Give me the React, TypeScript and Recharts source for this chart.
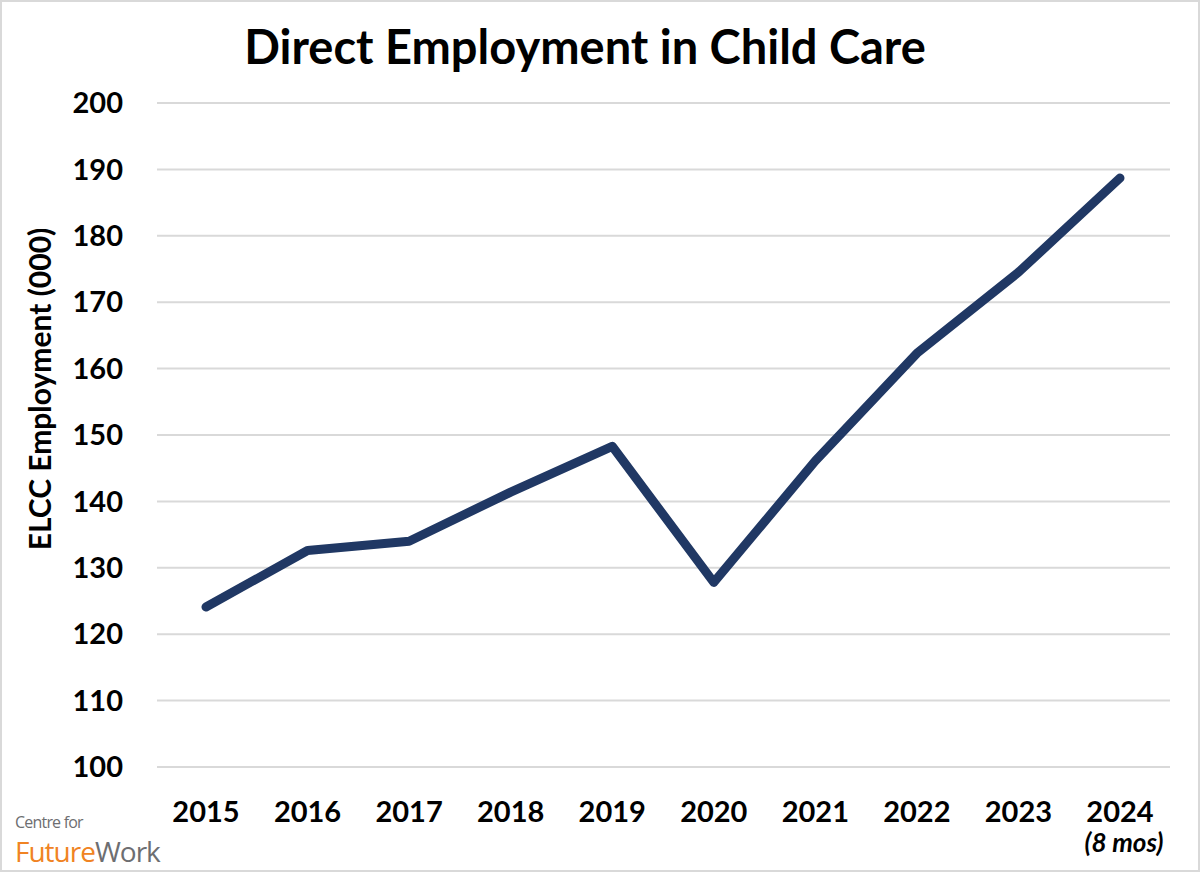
import React from "react";
import { LineChart, Line, XAxis, YAxis, CartesianGrid } from "recharts";

const years = ["2015", "2016", "2017", "2018", "2019", "2020", "2021", "2022", "2023", "2024"];
const employment = [124.1, 132.6, 134.0, 141.4, 148.3, 127.8, 146.1, 162.3, 174.5, 188.7];
const tickNotes: Record<string, string> = { "2024": "(8 mos)" };
const yTicks = [100, 110, 120, 130, 140, 150, 160, 170, 180, 190, 200];

const data = years.map((y, i) => ({ year: y, value: employment[i] }));

const FONT = "Lato, 'Open Sans', sans-serif";

const XTick = (props: any) => {
  const { x, y, payload } = props;
  const note = tickNotes[payload.value];
  return (
    <g>
      <text x={x} y={y} dy="0.71em" textAnchor="middle" fontFamily={FONT} fontWeight={700} fontSize={29} fill="#000">
        {payload.value}
      </text>
      {note && (
        <text x={x + 4} y={y + 33} dy="0.71em" textAnchor="middle" fontFamily={FONT} fontWeight={700} fontStyle="italic" fontSize={26} fill="#000">
          {note}
        </text>
      )}
    </g>
  );
};

export default function App() {
  return (
    <div style={{ position: "absolute", left: 0, top: 0, width: 1200, height: 872, background: "#fff", boxSizing: "border-box", border: "2px solid #d9d9d9", overflow: "hidden" }}>
      <div style={{ position: "absolute", left: -2, top: -2 }}>
        <LineChart width={1200} height={872} data={data} margin={{ top: 103, right: 30, bottom: 45, left: 67 }}>
          <text x={585} y={46} textAnchor="middle" dominantBaseline="central" fontFamily={FONT} fontWeight={700} fontSize={47} fill="#000">
            Direct Employment in Child Care
          </text>
          <text x={39} y={389} transform="rotate(-90 39 389)" textAnchor="middle" dominantBaseline="central" fontFamily={FONT} fontWeight={700} fontSize={30} fill="#000">
            ELCC Employment (000)
          </text>
          <CartesianGrid vertical={false} stroke="#d9d9d9" strokeWidth={2} />
          <XAxis dataKey="year" axisLine={false} tickLine={false} tickSize={0} tickMargin={34} height={60} padding={{ left: 49, right: 50 }} tick={<XTick />} interval={0} />
          <YAxis domain={[100, 200]} ticks={yTicks} axisLine={false} tickLine={false} tickSize={0} tickMargin={34} width={90} interval={0}
            tick={{ fontFamily: FONT, fontWeight: 700, fontSize: 29, fill: "#000" }} />
          <Line type="linear" dataKey="value" stroke="#203864" strokeWidth={9} strokeLinecap="round" strokeLinejoin="round" dot={false} activeDot={false} isAnimationActive={false} />
        </LineChart>
      </div>
      <div style={{ position: "absolute", left: 13, top: 812, fontFamily: "'Open Sans', sans-serif", lineHeight: 1 }}>
        <div style={{ fontSize: 16, height: 16, color: "#6d6e71", letterSpacing: -0.8 }}>Centre for</div>
        <div style={{ fontSize: 28, height: 28, marginTop: 7, letterSpacing: -1 }}>
          <span style={{ color: "#f08323" }}>Future</span><span style={{ color: "#6d6e71" }}>Work</span>
        </div>
      </div>
    </div>
  );
}
